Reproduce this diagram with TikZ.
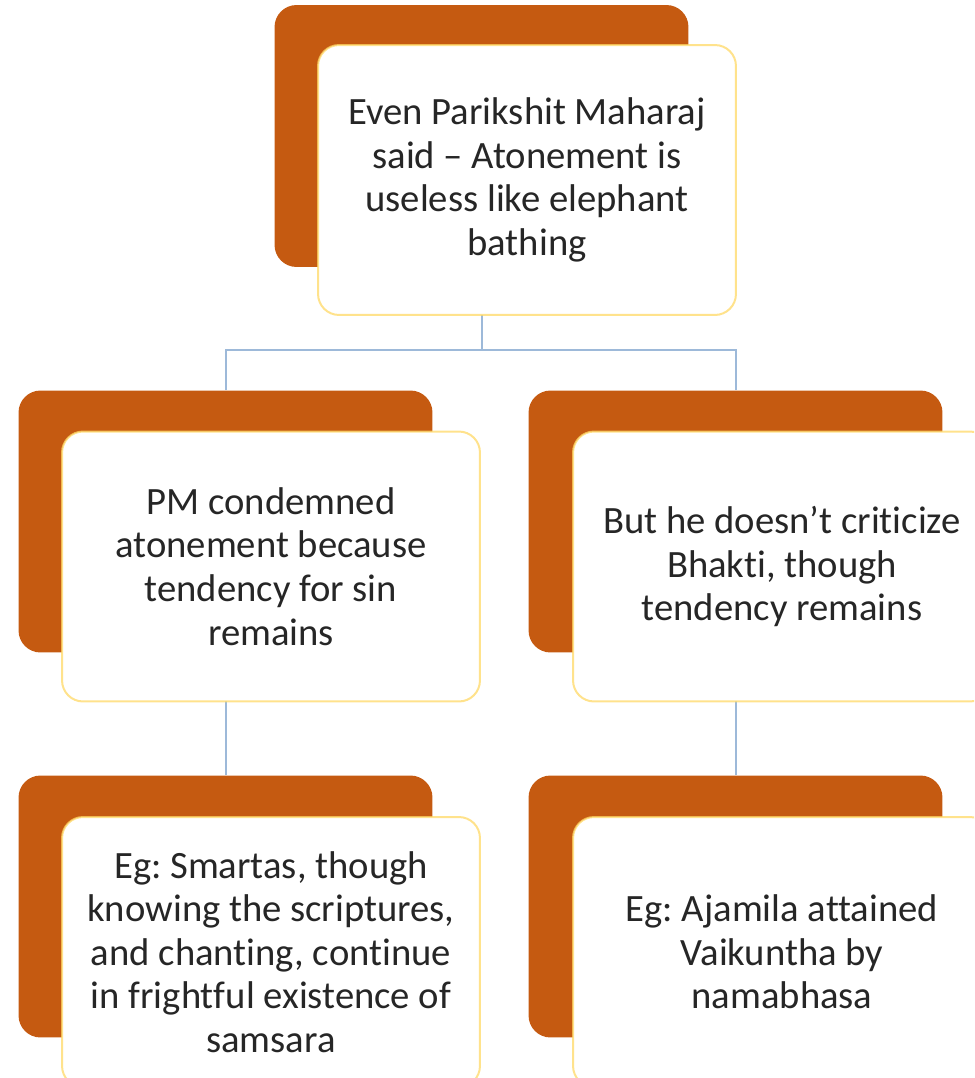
\documentclass[tikz,border=0pt]{standalone}
\usepackage{fontspec}
\setmainfont{Carlito}[Ligatures=NoCommon]
\frenchspacing
\definecolor{rust}{HTML}{C55A11}
\definecolor{sand}{HTML}{FFD966}
\definecolor{sky}{HTML}{9DB9D9}
\definecolor{ink}{HTML}{262626}

\begin{document}
\begin{tikzpicture}[
    x=0.02cm, y=-0.02cm,
    tab/.style={
        rectangle,
        rounded corners=0.44cm,
        fill=rust,
        inner sep=0pt,
        minimum width=8.28cm,
        minimum height=5.24cm
    },
    card/.style={
        rectangle,
        rounded corners=0.42cm,
        draw=sand,
        draw opacity=0.75,
        line width=0.04cm,
        fill=white,
        align=center,
        text=ink,
        inner sep=0pt,
        minimum width=8.36cm,
        minimum height=5.4cm,
        font=\fontsize{22}{24.8}\selectfont
    },
    link/.style={draw=sky, line width=0.04cm}
]
\useasboundingbox (0,0) rectangle (974,1078);
\clip (0,0) rectangle (974,1078);

% BACK TABS
\node[tab] (toptab) at (481.5,136) {};
\node[tab] (lefttab) at (225.5,521.5) {};
\node[tab] (righttab) at (735.5,521.5) {};
\node[tab] (lowlefttab) at (225.5,906.5) {};
\node[tab] (lowrighttab) at (735.5,906.5) {};

% --- CONNECTORS ---
\coordinate (split) at (481.5,350);
\draw[link] (toptab.south) -- (split) -| (lefttab.north);
\draw[link] (split) -| (righttab.north);
\draw[link] (lefttab.south) -- (lowlefttab.north);
\draw[link] (righttab.south) -- (lowrighttab.north);

% FRONT CARDS
\node[card] (topcard) at (527,180) {Even Parikshit Maharaj\\said -- Atonement is\\useless like elephant\\bathing};
\node[card] (leftcard) at (271,566.5) {PM condemned\\atonement because\\tendency for sin\\remains};
\node[card] (rightcard) at (782,566.5) {But he doesn’t criticize\\Bhakti, though\\tendency remains};
\node[card] (lowleftcard) at (271,952) {Eg: Smartas, though\\knowing the scriptures,\\and chanting, continue\\in frightful existence of\\samsara};
\node[card] (lowrightcard) at (782,952) {Eg: Ajamila attained\\Vaikuntha by\\namabhasa};

\end{tikzpicture}
\end{document}
